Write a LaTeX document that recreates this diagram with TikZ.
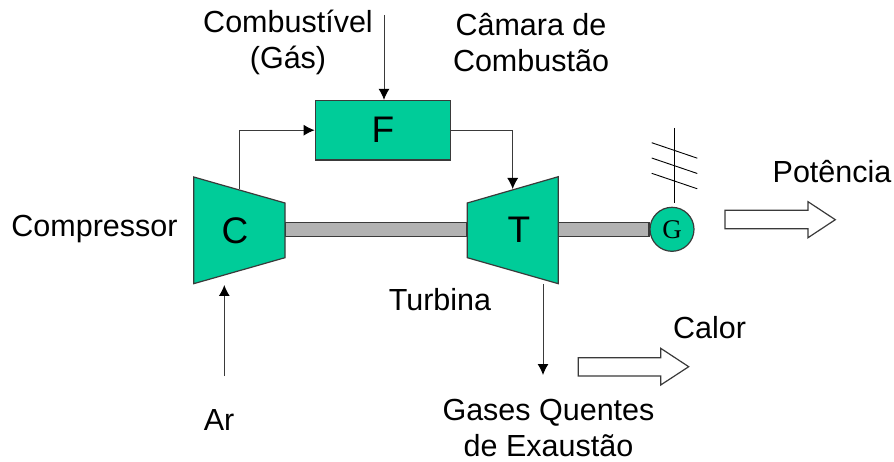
\documentclass[tikz,border=0pt]{standalone}
\usepackage{fontspec}
\setmainfont{Liberation Sans}
\newfontfamily\genfont{Liberation Serif}
\usetikzlibrary{arrows.meta}
\definecolor{machine}{HTML}{00CC99}
\definecolor{shaft}{HTML}{B2B2B2}
\definecolor{edge}{HTML}{3A3A3A}
\tikzset{
  label/.style={font=\fontsize{30.5}{36}\selectfont, align=center, inner sep=0pt},
  letter/.style={font=\fontsize{37}{40}\selectfont, inner sep=0pt},
  part/.style={draw=edge, fill=machine, line width=1.2pt},
  axle/.style={draw=edge, fill=shaft, line width=1.4pt},
  flow/.style={draw=edge, line width=1pt, -{Latex[length=11pt,width=11pt,color=black]}},
  bigarrow/.style={draw=edge, fill=white, line width=1.2pt},
  wire/.style={draw=black, line width=0.9pt}
}
\begin{document}
\begin{tikzpicture}[x=1pt, y=-1pt]
  \useasboundingbox (0,0) rectangle (894,462);

  % shafts
  \draw[axle] (285,222.7) rectangle (466.5,236.7);
  \draw[axle] (558,222.7) rectangle (649,236.7);

  % machines
  \draw[part] (193.7,177) -- (285,203) -- (285,257.7) -- (193.7,283.7) -- cycle;
  \draw[part] (467.3,203) -- (558.3,176.7) -- (558.3,283.7) -- (467.3,257.7) -- cycle;
  \node[part, letter, minimum width=135.5pt, minimum height=59.5pt] (F) at (383,130.2) {F};
  \node[part, circle, minimum size=44pt, inner sep=0pt] (G) at (672,229.3) {\genfont\fontsize{27}{28}\selectfont G};
  \node[letter] (C) at (235,231) {C};
  \node[letter] (T) at (519,230) {T};

  % end points of the flows
  \coordinate (cout) at (239,189);
  \coordinate (tin) at (512.7,189);
  \coordinate (tout) at (543,284);
  \coordinate (gasend) at (543,375);
  \coordinate (fuelstart) at (384,15);
  \coordinate (airstart) at (224.3,376);
  \coordinate (airend) at (224.3,285);

  \draw[flow] (cout) |- (F.west);
  \draw[flow] (F.east) -| (tin);
  \draw[flow] (fuelstart) -- (fuelstart |- F.north);
  \draw[flow] (airstart) -- (airend);
  \draw[flow] (tout) -- (gasend);

  % grid connection
  \coordinate (gridtop) at (674.3,128);
  \coordinate (gridbottom) at (674.3,203);
  \draw[wire] (gridtop) -- (gridbottom);
  \foreach \y in {142.7,158,173.3} {
    \draw[wire] (651.7,\y) -- ++(45.6,15.5);
  }

  % output arrows
  \draw[bigarrow] (725,210.3) -- (808,210.3) -- (808,201.7) -- (835.3,219.7)
    -- (808,237.7) -- (808,228.7) -- (725,228.7) -- cycle;
  \draw[bigarrow] (578.3,357.7) -- (660.7,357.7) -- (660.7,348.3) -- (688.7,366.7)
    -- (660.7,385) -- (660.7,376) -- (578.3,376) -- cycle;

  % labels
  \node[label] (fuel) at (288,42) {Combustível\\(Gás)};
  \node[label] (chamber) at (531,42.5) {Câmara de\\Combustão};
  \node[label] (compressor) at (94.5,229) {Compressor};
  \node[label] (turbine) at (440,300) {Turbina};
  \node[label] (air) at (219,420) {Ar};
  \node[label] (exhaust) at (548.5,427.5) {Gases Quentes\\de Exaustão};
  \node[label] (power) at (832,172) {Potência};
  \node[label] (heat) at (709.5,328) {Calor};
\end{tikzpicture}
\end{document}
